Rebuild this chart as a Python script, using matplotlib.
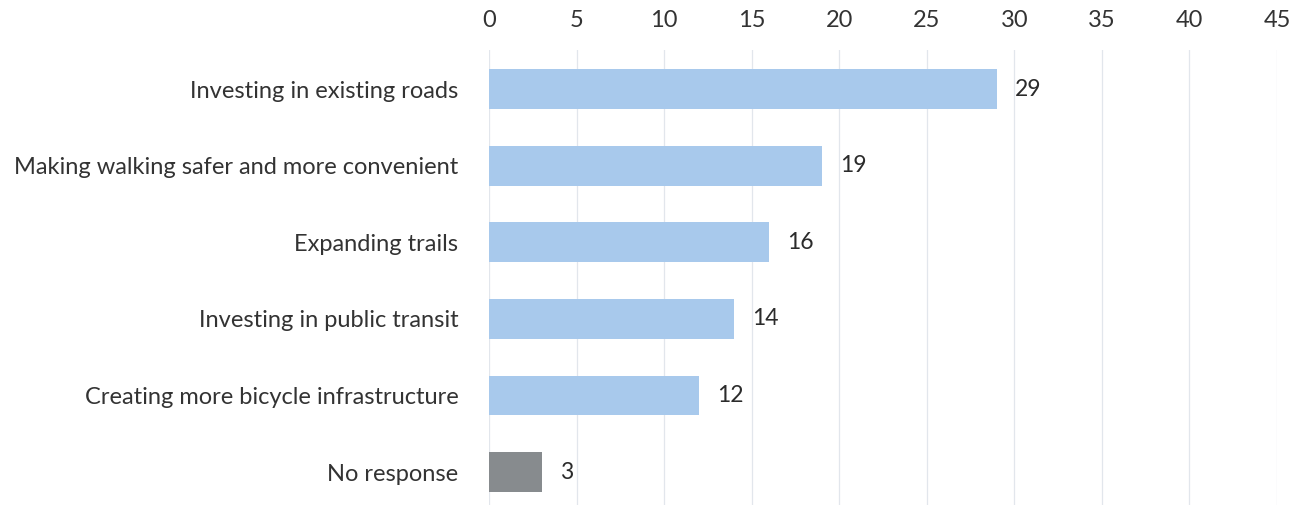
import matplotlib
matplotlib.use("Agg")
import matplotlib.pyplot as plt

categories = [
    "Investing in existing roads",
    "Making walking safer and more convenient",
    "Expanding trails",
    "Investing in public transit",
    "Creating more bicycle infrastructure",
    "No response",
]
values = [29, 19, 16, 14, 12, 3]
bar_colors = ["#a8c9ec"] * 5 + ["#878b8e"]
xticks = list(range(0, 50, 5))

plt.rcParams["font.family"] = ["Lato", "DejaVu Sans"]

fig = plt.figure(figsize=(13.08, 5.05), dpi=100)
ax = fig.add_axes([489 / 1308, 0.0, (1277 - 489) / 1308, 455 / 505])

y = list(range(len(categories)))
ax.barh(y, values, height=0.52, color=bar_colors, zorder=2)

for yi, v in zip(y, values):
    ax.annotate(str(v), (v, yi), xytext=(13, 0), textcoords="offset points",
                va="center", ha="left", fontsize=16.5, color="#2b2b2b")

ax.set_xlim(0, 45)
ax.set_ylim(5.43, -0.51)
ax.set_xticks(xticks)
ax.set_yticks(y)
ax.set_yticklabels(categories, fontsize=17, color="#333333")
ax.xaxis.tick_top()
ax.tick_params(axis="x", length=0, pad=14, labelsize=17, labelcolor="#333333")
ax.tick_params(axis="y", length=0, pad=22)
ax.grid(axis="x", color="#e2e6ec", linewidth=0.9, zorder=0)
for s in ax.spines.values():
    s.set_visible(False)

fig.savefig("out.png", dpi=100)
